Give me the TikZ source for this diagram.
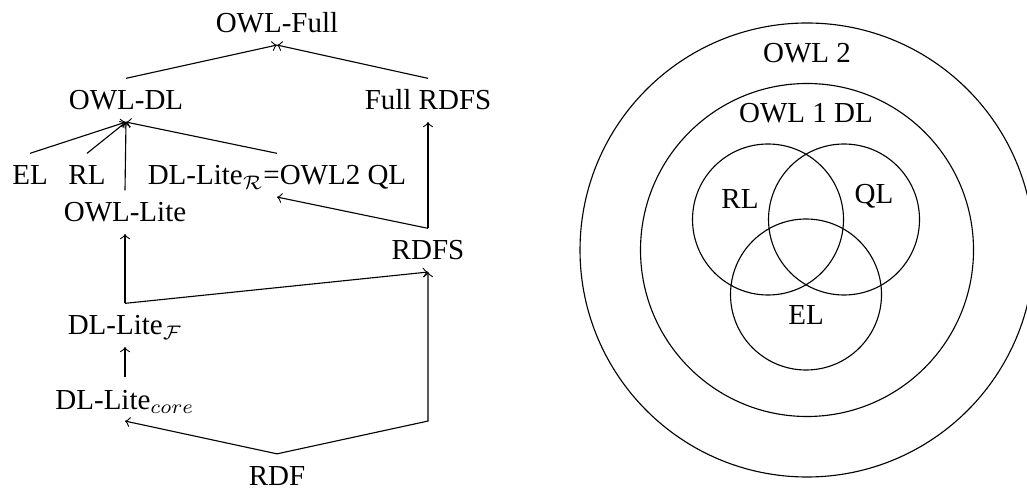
\documentclass[tikz,border=0pt]{standalone}
\usepackage{amsmath,amssymb}
\usepackage{fontspec}
\setmainfont{Liberation Serif}
\usepackage{tikz}

\begin{document}
\begin{tikzpicture}[x=0.357pt,y=0.357pt,yscale=-1,xscale=1,
  lang/.style={anchor=base, font=\fontsize{10.35}{12.4}\selectfont, inner xsep=0pt, inner ysep=3.6pt, text height=7.5pt, text depth=0.5pt}]
\useasboundingbox (0,0) rectangle (1027,488);
% Text Node
\node [lang] (owlfull) at (277,33) {OWL-Full};
% Text Node
\node [lang] (owldl) at (126,110) {OWL-DL};
% Text Node
\node [lang] (fullrdfs) at (428,110) {Full RDFS};
% Text Node
\node [lang] (el) at (30,185) {EL};
% Text Node
\node [lang] (rl) at (87,185) {RL};
% Text Node
\node [lang] (dllr) at (277,185) {DL-Lite$_{\mathcal{R}}$=OWL2 QL};
% Text Node
\node [lang] (owllite) at (125,222) {OWL-Lite};
% Text Node
\node [lang] (rdfs) at (428,260) {RDFS};
% Text Node
\node [lang] (dllf) at (125,335) {DL-Lite$_{\mathcal{F}}$};
% Text Node
\node [lang] (dllcore) at (125,409) {DL-Lite$_{core}$};
% Text Node
\node [lang] (rdf) at (277,485.5) {RDF};
%Straight Lines
\draw [->] (owldl.north) -- (owlfull.south);
\draw [->] (fullrdfs.north) -- (owlfull.south);
%Straight Lines
\draw [->] (el.north) -- (owldl.south);
\draw [->] (rl.north) -- (owldl.south);
\draw [->] (owllite.north) -- (owldl.south);
\draw [->] (dllr.north) -- (owldl.south);
%Straight Lines
\draw [->] (rdfs.north) -- (fullrdfs.south);
\draw [->] (rdfs.north) -- (dllr.south);
%Straight Lines
\draw [->] (dllf.north) -- (owllite.south);
\draw [->] (dllf.north) -- (rdfs.south);
\draw [->] (dllcore.north) -- (dllf.south);
%Straight Lines
\draw [->] (rdf.north) -- (dllcore.south);
\draw [->] (rdf.north) -- (rdfs.south |- dllcore.south) -- (rdfs.south);
%Shape: Circle
\draw (807,250) circle (227);
%Shape: Circle
\draw (807,250) circle (166.5);
%Shape: Circle
\draw (768,219.5) circle (75.5);
%Shape: Circle
\draw (844,219.5) circle (75.5);
%Shape: Circle
\draw (806,294.5) circle (75.5);
% Text Node
\node [lang] (owltwo) at (807,63) {OWL 2};
% Text Node
\node [lang] (owlonedl) at (806,123) {OWL 1 DL};
% Text Node
\node [lang] (rlset) at (740,209) {RL};
% Text Node
\node [lang] (qlset) at (874,204) {QL};
% Text Node
\node [lang] (elset) at (806,325) {EL};
\end{tikzpicture}
\end{document}
